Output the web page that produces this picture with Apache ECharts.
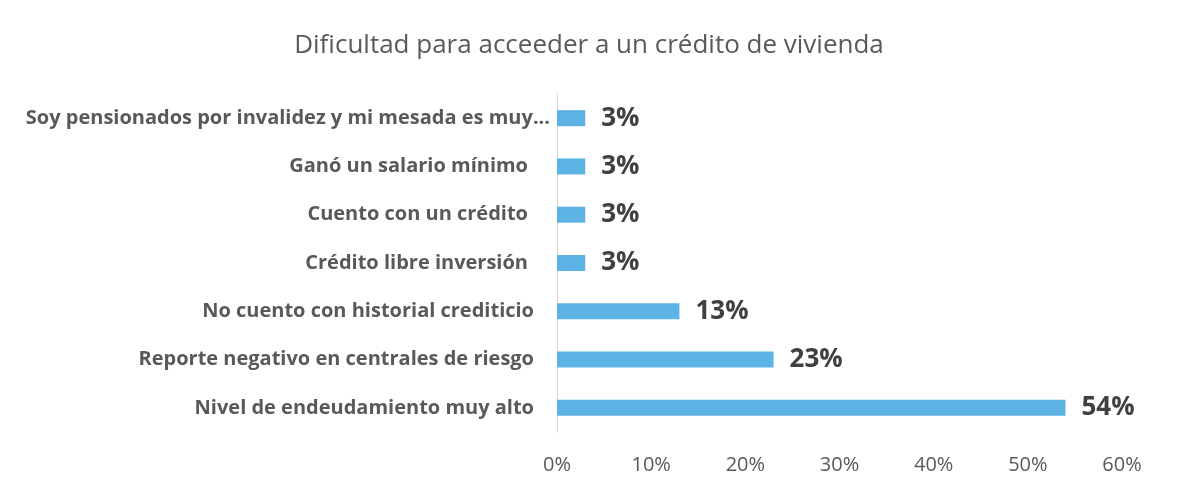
<!DOCTYPE html>
<html>
<head>
<meta charset="utf-8">
<script src="https://cdn.jsdelivr.net/npm/echarts@6/dist/echarts.min.js"></script>
<style>
  html, body { margin: 0; padding: 0; background: #fff; }
  #chart { width: 1178px; height: 490px; }
</style>
</head>
<body>
<div id="chart"></div>
<script>
// categories from top to bottom
const categories = [
  "Soy pensionados por invalidez y mi mesada es muy...",
  "Ganó un salario mínimo",
  "Cuento con un crédito",
  "Crédito libre inversión",
  "No cuento con historial crediticio",
  "Reporte negativo en centrales de riesgo",
  "Nivel de endeudamiento muy alto"
]
const values = [3, 3, 3, 3, 13, 23, 54]
const xTicks = [0, 10, 20, 30, 40, 50, 60]

let myChart = echarts.init(document.getElementById("chart"))
myChart.setOption({
  animation: false,
  backgroundColor: "#fff",
  textStyle: { fontFamily: "'Open Sans', sans-serif" },
  title: {
    text: "Dificultad para acceeder a un crédito de vivienda",
    left: "center",
    top: 28,
    textStyle: {
      color: "#595959",
      fontSize: 26,
      fontWeight: "normal",
    },
  },
  grid: {
    left: 557,
    right: 56,
    top: 94,
    bottom: 58,
  },
  xAxis: {
    type: "value",
    min: xTicks[0],
    max: xTicks[xTicks.length - 1],
    interval: 10,
    axisLine: { show: false },
    axisTick: { show: false },
    splitLine: { show: false },
    axisLabel: {
      formatter: "{value}%",
      color: "#595959",
      fontSize: 20,
      margin: 23,
    },
  },
  yAxis: {
    type: "category",
    data: categories,
    inverse: true,
    axisLine: { show: true, lineStyle: { color: "#d9d9d9" } },
    axisTick: { show: false },
    axisLabel: {
      color: "#595959",
      fontSize: 20,
      fontWeight: "bold",
      margin: 7,
      // excel leaves uneven gaps before the axis
      formatter: (v, i) => (i === 0 ? "{a|" : i < 4 ? "{c|" : "{b|") + v + "}",
      rich: {
        a: { fontSize: 20, fontWeight: "bold", color: "#595959" },
        b: { fontSize: 20, fontWeight: "bold", color: "#595959", padding: [0, 16, 0, 0] },
        c: { fontSize: 20, fontWeight: "bold", color: "#595959", padding: [0, 22, 0, 0] },
      },
    },
  },
  series: [
    {
      type: "bar",
      data: values,
      barWidth: 16,
      itemStyle: { color: "#5cb3e4" },
      label: {
        show: true,
        position: "right",
        distance: 16,
        formatter: "{c}%",
        color: "#404040",
        fontSize: 26,
        fontWeight: "bold",
      },
    },
  ],
})
</script>
</body>
</html>
